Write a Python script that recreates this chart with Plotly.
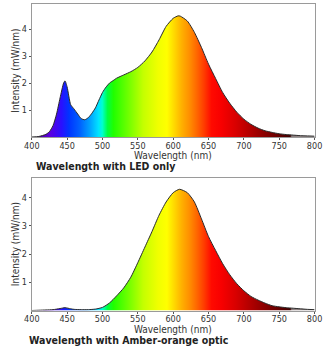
import plotly.graph_objects as go

# ---- data ----
wl_led = [400, 410, 420, 425, 430, 435, 440, 445, 447, 450, 455, 460, 465, 470, 475, 480, 485, 490, 495,
          500, 505, 510, 515, 520, 530, 540, 550, 560, 570, 580, 590, 600, 607, 610, 620, 630, 640, 650,
          660, 670, 680, 690, 700, 710, 720, 730, 740, 750, 760, 770, 780, 790, 800]
int_led = [0.0, 0.02, 0.1, 0.2, 0.42, 0.85, 1.45, 2.0, 2.08, 1.85, 1.2, 1.03, 0.85, 0.68, 0.64, 0.72, 0.88, 1.08, 1.37,
           1.65, 1.85, 2.0, 2.09, 2.18, 2.3, 2.42, 2.58, 2.82, 3.15, 3.6, 4.1, 4.4, 4.49, 4.48, 4.3, 3.88, 3.32, 2.7,
           2.17, 1.65, 1.25, 0.92, 0.66, 0.47, 0.33, 0.23, 0.17, 0.12, 0.09, 0.07, 0.05, 0.04, 0.03]

wl_amber = [400, 410, 420, 430, 440, 447, 455, 460, 470, 480, 490, 500, 510, 520, 530, 540, 550, 560, 570,
            580, 590, 600, 609, 620, 630, 640, 650, 660, 670, 680, 690, 700, 710, 720, 730, 740, 750, 760,
            770, 780, 790, 800]
int_amber = [0.0, 0.01, 0.02, 0.03, 0.07, 0.1, 0.06, 0.04, 0.03, 0.03, 0.05, 0.11, 0.27, 0.52, 0.8, 1.18, 1.7, 2.25, 2.8,
             3.38, 3.85, 4.18, 4.3, 4.18, 3.85, 3.25, 2.62, 2.13, 1.66, 1.27, 0.95, 0.7, 0.5, 0.37, 0.26, 0.17, 0.13, 0.1,
             0.08, 0.06, 0.04, 0.03]

x_ticks = [400, 450, 500, 550, 600, 650, 700, 750, 800]
y_ticks = [1, 2, 3, 4]

captions = ["Wavelength with LED only", "Wavelength with Amber-orange optic"]

# spectrum colour stops (wavelength, colour)
spec_wl = [400, 412, 425, 440, 450, 465, 478, 490, 495, 502, 510, 530, 550, 570, 582, 592, 602, 612, 622,
           632, 642, 655, 675, 695, 715, 735, 748, 750, 800]
spec_col = ["#2a0045", "#5000a8", "#5a00e0", "#2a10ff", "#0034ff", "#0062ff", "#00a0ff", "#00e4ff", "#00ffd0",
            "#00ff40", "#20ff00", "#70ff00", "#c4ff00", "#f0ff00", "#ffff00", "#ffd800", "#ffb000", "#ff9000",
            "#ff6800", "#ff3c00", "#ff0a00", "#f80000", "#d80000", "#b00000", "#880000", "#600000", "#3e0000",
            "#8a7c7c", "#b0a8a8"]
colorscale = [[(w - 400) / 400, c] for w, c in zip(spec_wl, spec_col)]

W, H = 334, 347
FONT = "Liberation Sans Narrow, DejaVu Sans Condensed, sans-serif"

fig = go.Figure()

series = [(wl_led, int_led, "x", "y"), (wl_amber, int_amber, "x2", "y2")]
for wl, val, xa, ya in series:
    fig.add_trace(go.Scatter(
        x=wl, y=val, xaxis=xa, yaxis=ya, mode="lines", fill="tozeroy",
        line=dict(color="#2a2a2a", width=1, shape="spline", smoothing=0.6),
        fillgradient=dict(type="horizontal", colorscale=colorscale, start=400, stop=800),
        hoverinfo="skip", showlegend=False))

def px_y(p):
    return 1 - p / H

def px_x(p):
    return p / W

axis_common = dict(showgrid=False, zeroline=False, showline=True, mirror=True, linecolor="#9a9a9a",
                   linewidth=1, ticks="outside", ticklen=2, tickcolor="#555",
                   tickfont=dict(family=FONT, size=9, color="#333"))

fig.update_layout(
    width=W, height=H, margin=dict(l=0, r=0, t=0, b=0),
    paper_bgcolor="white", plot_bgcolor="white",
    xaxis=dict(domain=[px_x(25), px_x(322)], range=[400, 800], tickvals=x_ticks, anchor="y",
               ticklabelstandoff=-2, **axis_common),
    yaxis=dict(domain=[px_y(137), px_y(4)], range=[0, 4.93], tickvals=y_ticks, anchor="x", **axis_common),
    xaxis2=dict(domain=[px_x(25), px_x(322)], range=[400, 800], tickvals=x_ticks, anchor="y2",
                ticklabelstandoff=-2, **axis_common),
    yaxis2=dict(domain=[px_y(310.5), px_y(178)], range=[0, 4.7], tickvals=y_ticks, anchor="x2", **axis_common),
)

ann = []
ann_font = dict(family=FONT, size=10, color="#333")
for yc in (70.5, 244):
    ann.append(dict(text="Intensity (mW/nm)", x=px_x(7.5), y=px_y(yc), xref="paper", yref="paper",
                    textangle=-90, showarrow=False, font=ann_font, xanchor="center", yanchor="middle"))
for yc in (155.5, 329):
    ann.append(dict(text="Wavelength (nm)", x=px_x(173.5), y=px_y(yc), xref="paper", yref="paper",
                    showarrow=False, font=ann_font, xanchor="center", yanchor="middle"))
for text, xl, yc in zip(captions, (27, 20), (166, 340)):
    ann.append(dict(text="<b>" + text + "</b>", x=px_x(xl), y=px_y(yc), xref="paper", yref="paper",
                    showarrow=False, font=dict(family=FONT, size=10.5, color="#222"),
                    xanchor="left", yanchor="middle"))
fig.update_layout(annotations=ann)

fig.write_html("out.html", post_script="document.body.style.margin='0';")
